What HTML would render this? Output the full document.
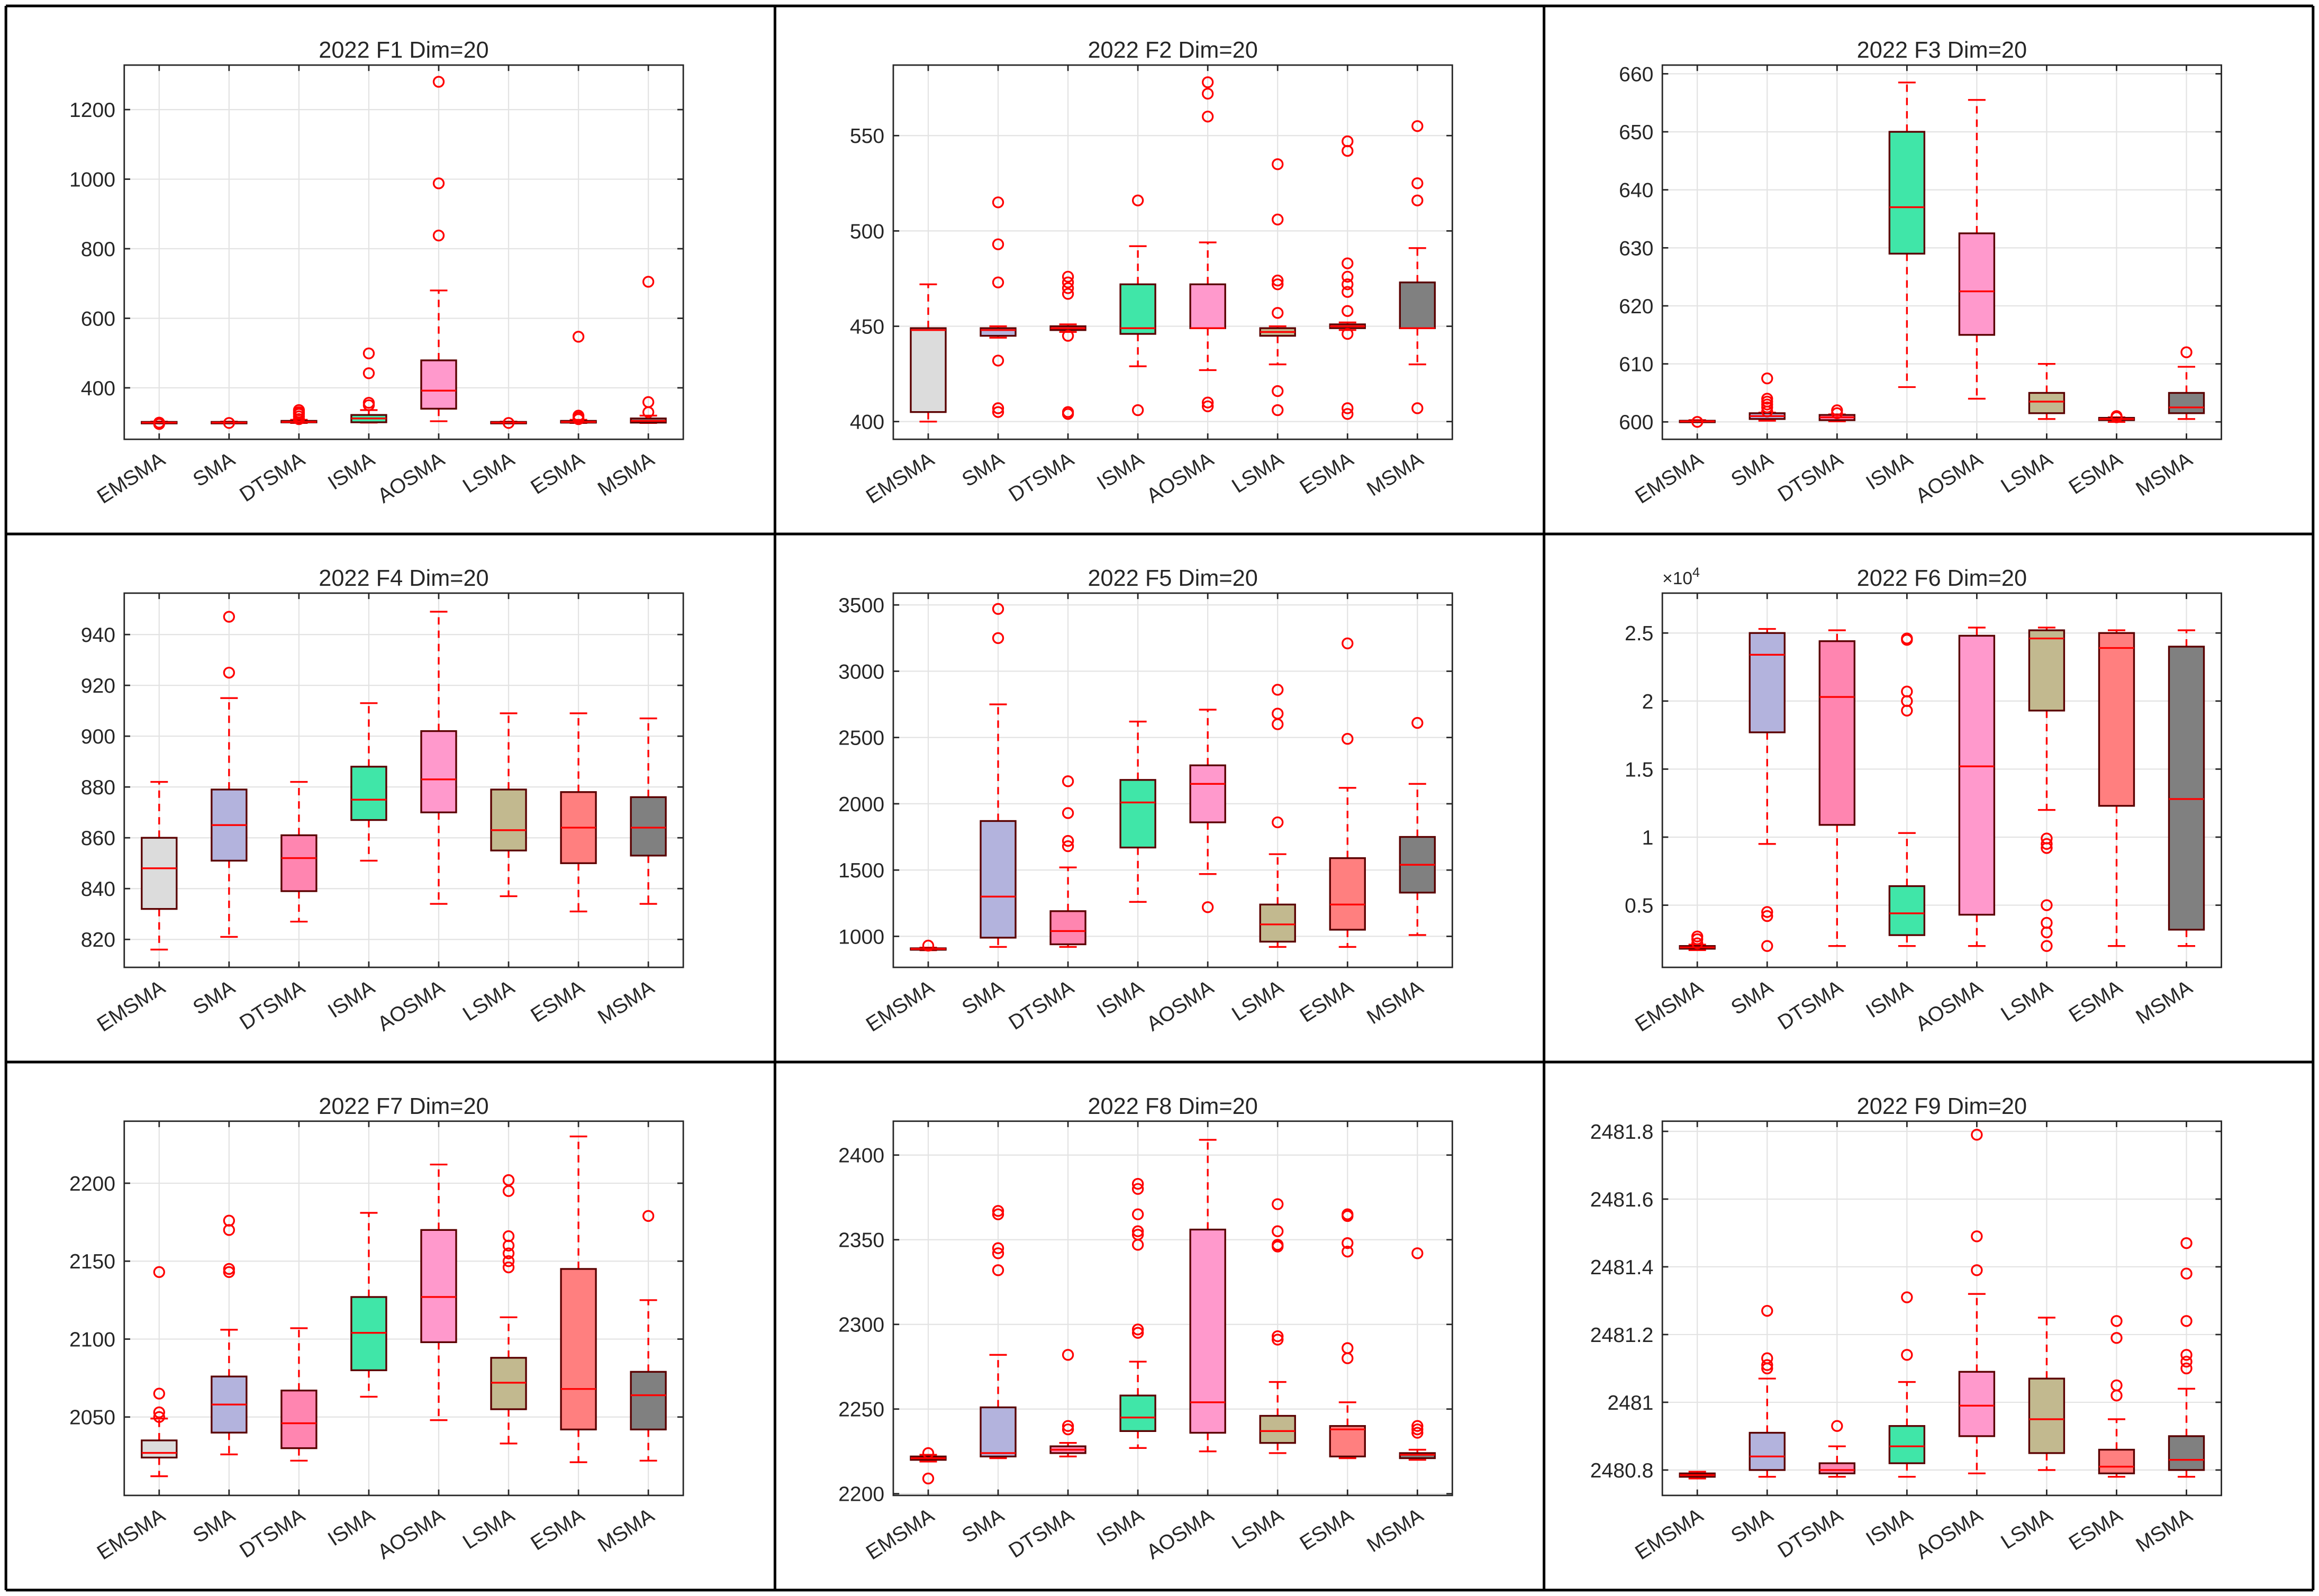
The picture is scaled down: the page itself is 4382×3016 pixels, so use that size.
<!DOCTYPE html>
<html><head><meta charset="utf-8"><style>
html,body{margin:0;padding:0;background:#fff}
svg{display:block}
text{font-family:"Liberation Sans",Arial,sans-serif;fill:#262626}
</style></head><body>
<svg id="fig" xmlns="http://www.w3.org/2000/svg" width="4382" height="3016" viewBox="0 0 1568 1079" preserveAspectRatio="none"></svg>
<script>
const categories=["EMSMA","SMA","DTSMA","ISMA","AOSMA","LSMA","ESMA","MSMA"];
const colors=["#dcdcdc","#b3b3dd","#ff85b0","#40e6a8","#ff99cc","#c2b98f","#ff7f7f","#808080"];
const titles=["2022 F1 Dim=20","2022 F2 Dim=20","2022 F3 Dim=20","2022 F4 Dim=20","2022 F5 Dim=20","2022 F6 Dim=20","2022 F7 Dim=20","2022 F8 Dim=20","2022 F9 Dim=20"];
const ylims=[[252,1328],[390.7,587],[597,661.5],[809,956.3],[766,3589],[0.043,2.793],[1999.7,2239.8],[2199,2420],[2480.725,2481.83]];
const tickVals=[[400,600,800,1000,1200],[400,450,500,550],[600,610,620,630,640,650,660],[820,840,860,880,900,920,940],[1000,1500,2000,2500,3000,3500],[0.5,1,1.5,2,2.5],[2050,2100,2150,2200],[2200,2250,2300,2350,2400],[2480.8,2481,2481.2,2481.4,2481.6,2481.8]];
const tickLabels=[["400","600","800","1000","1200"],["400","450","500","550"],["600","610","620","630","640","650","660"],["820","840","860","880","900","920","940"],["1000","1500","2000","2500","3000","3500"],["0.5","1","1.5","2","2.5"],["2050","2100","2150","2200"],["2200","2250","2300","2350","2400"],["2480.8","2481","2481.2","2481.4","2481.6","2481.8"]];
const q1=[[299,299,301,301,340,299,300,300],[405,445,448,446,449,445,449,449],[600,600.5,600.3,629,615,601.5,600.3,601.5],[832,851,839,867,870,855,850,853],[900,990,940,1670,1860,960,1050,1330],[0.18,1.77,1.09,0.28,0.43,1.93,1.23,0.32],[2024,2040,2030,2080,2098,2055,2042,2042],[2220,2222,2224,2237,2236,2230,2222,2221],[2480.78,2480.80,2480.79,2480.82,2480.90,2480.85,2480.79,2480.80]];
const med=[[300,300,302,312,392,300,302,305],[448,448,449,449,449,447,450,449],[600.1,601,600.8,637,622.5,603.5,600.5,602.5],[848,865,852,875,883,863,864,864],[905,1300,1040,2010,2150,1090,1240,1540],[0.19,2.34,2.03,0.44,1.52,2.46,2.39,1.28],[2027,2058,2046,2104,2127,2072,2068,2064],[2221,2224,2226,2245,2254,2237,2238,2223],[2480.785,2480.84,2480.80,2480.87,2480.99,2480.95,2480.81,2480.83]];
const q3=[[302,302,305,322,479,302,305,312],[449,449,450,472,472,449,451,473],[600.2,601.5,601.2,650,632.5,605,600.7,605],[860,879,861,888,902,879,878,876],[910,1870,1190,2180,2290,1240,1590,1750],[0.2,2.5,2.44,0.64,2.48,2.52,2.5,2.4],[2035,2076,2067,2127,2170,2088,2145,2079],[2222,2251,2228,2258,2356,2246,2240,2224],[2480.79,2480.91,2480.82,2480.93,2481.09,2481.07,2480.86,2480.90]];
const wlo=[[298,298,299,300,304,298,299,299],[400,444,447,429,427,430,448,430],[600,600.2,600.1,606,604,600.5,600,600.5],[816,821,827,851,834,837,831,834],[895,920,920,1260,1470,920,920,1010],[0.17,0.95,0.2,0.2,0.2,1.2,0.2,0.2],[2012,2026,2022,2063,2048,2033,2021,2022],[2219,2221,2222,2227,2225,2224,2221,2220],[2480.775,2480.78,2480.78,2480.78,2480.79,2480.80,2480.78,2480.78]];
const whi=[[303,303,308,336,680,303,308,320],[472,450,451,492,494,450,452,491],[600.3,601.6,601.3,658.5,655.5,610,600.8,609.5],[882,915,882,913,949,909,909,907],[915,2750,1520,2620,2710,1620,2120,2150],[0.21,2.53,2.52,1.03,2.54,2.54,2.52,2.52],[2049,2106,2107,2181,2212,2114,2230,2125],[2223,2282,2230,2278,2409,2266,2254,2226],[2480.795,2481.07,2480.87,2481.06,2481.32,2481.25,2480.95,2481.04]];
const outliers=[
[[300,296],[299],[310,318,325,330,336],[350,357,442,499],[838,988,1280],[299],[310,315,320,547],[330,359,705]],
[[],[515,493,473,432,407,405],[476,473,470,467,445,405,404],[516,406],[578,572,560,410,408],[535,506,474,472,457,416,406],[547,542,483,476,472,468,458,446,407,404],[555,525,516,407]],
[[600],[607.5,604,603.5,603,602.5,601.8],[602,601.5],[],[],[],[601,600.8],[612]],
[[],[947,925],[],[],[],[],[],[]],
[[930],[3470,3250],[2170,1930,1720,1680],[],[1220],[2860,2680,2600,1860],[3210,2490],[2610]],
[[0.22,0.25,0.27],[0.45,0.42,0.2],[],[2.46,2.45,2.07,2.0,1.93],[],[0.99,0.95,0.92,0.5,0.37,0.3,0.2],[],[]],
[[2143,2065,2053,2050],[2176,2170,2145,2143],[],[],[],[2202,2195,2166,2160,2155,2150,2146],[],[2179]],
[[2224,2209],[2367,2365,2345,2342,2332],[2282,2240,2238],[2383,2380,2365,2355,2353,2347,2297,2295],[],[2371,2355,2347,2346,2293,2291],[2365,2364,2348,2343,2286,2280],[2342,2240,2238,2236]],
[[],[2481.27,2481.13,2481.11,2481.10],[2480.93],[2481.31,2481.14],[2481.79,2481.49,2481.39],[],[2481.24,2481.19,2481.05,2481.02],[2481.47,2481.38,2481.24,2481.14,2481.12,2481.10]]
];
const NS="http://www.w3.org/2000/svg";
const svg=document.getElementById('fig');
function mk(tag,attrs,parent){const e=document.createElementNS(NS,tag);for(const k in attrs)e.setAttribute(k,attrs[k]);(parent||svg).appendChild(e);return e;}
for(let p=0;p<9;p++){
  const c=p%3,r=Math.floor(p/3);
  const L=84+520*c,R=L+378,T=44+357*r,B=T+253;
  const g=mk('g',{});
  
  
  const [y0,y1]=ylims[p];
  const ys=v=>B-(v-y0)/(y1-y0)*(B-T);
  const xs=i=>L+(i+0.5)/8*(R-L);
  const bw=(R-L)/8*0.5;
  // grid
  tickVals[p].forEach(v=>{mk('line',{x1:L,x2:R,y1:ys(v),y2:ys(v),stroke:'#e3e3e3','stroke-width':0.8},g);});
  categories.forEach((n,i)=>{mk('line',{x1:xs(i),x2:xs(i),y1:T,y2:B,stroke:'#e3e3e3','stroke-width':0.8},g);});
  // boxes
  categories.forEach((n,i)=>{
    const x=xs(i);
    const bg=mk('g',{},g);
    
    
    mk('line',{x1:x,x2:x,y1:ys(q3[p][i]),y2:ys(whi[p][i]),stroke:'#ff0000','stroke-width':1.2,'stroke-dasharray':'5,4'},bg);
    mk('line',{x1:x,x2:x,y1:ys(q1[p][i]),y2:ys(wlo[p][i]),stroke:'#ff0000','stroke-width':1.2,'stroke-dasharray':'5,4'},bg);
    mk('line',{x1:x-bw/4,x2:x+bw/4,y1:ys(whi[p][i]),y2:ys(whi[p][i]),stroke:'#ff0000','stroke-width':1.2},bg);
    mk('line',{x1:x-bw/4,x2:x+bw/4,y1:ys(wlo[p][i]),y2:ys(wlo[p][i]),stroke:'#ff0000','stroke-width':1.2},bg);
    const yt=ys(q3[p][i]),yb=ys(q1[p][i]);
    mk('rect',{x:x-bw/2,y:yt,width:bw,height:Math.max(yb-yt,1),fill:colors[i],stroke:'#5a0000','stroke-width':1.2},bg);
    mk('line',{x1:x-bw/2,x2:x+bw/2,y1:ys(med[p][i]),y2:ys(med[p][i]),stroke:'#ff0000','stroke-width':1.2},bg);
    outliers[p][i].forEach(v=>{
      const o=mk('circle',{cx:x,cy:ys(v),r:3.4,fill:'none',stroke:'#ff0000','stroke-width':1.2},bg);
      
      
    });
  });
  // axes box
  const ax=mk('rect',{x:L,y:T,width:R-L,height:B-T,fill:'none',stroke:'#262626','stroke-width':1},g);
  
  
  tickVals[p].forEach((v,k)=>{
    const y=ys(v);
    mk('line',{x1:L,x2:L+4,y1:y,y2:y,stroke:'#262626','stroke-width':1},g);
    mk('line',{x1:R-4,x2:R,y1:y,y2:y,stroke:'#262626','stroke-width':1},g);
    const t=mk('text',{x:L-6,y:y+5,'text-anchor':'end','font-size':14},g);
    t.textContent=tickLabels[p][k];
    
    
  });
  categories.forEach((n,i)=>{
    const x=xs(i);
    mk('line',{x1:x,x2:x,y1:B-4,y2:B,stroke:'#262626','stroke-width':1},g);
    mk('line',{x1:x,x2:x,y1:T,y2:T+4,stroke:'#262626','stroke-width':1},g);
    const t=mk('text',{x:x+5,y:B+16,'text-anchor':'end','font-size':14,transform:`rotate(-33 ${x+5} ${B+16})`},g);
    t.textContent=n;
    
    
  });
  const tt=mk('text',{x:(L+R)/2,y:T-5,'text-anchor':'middle','font-size':15.5,fill:'#000'},g);
  tt.textContent=titles[p];
  
  
  if(p===5){
    const e=mk('text',{x:L,y:T-6,'font-size':12},g);
    e.textContent='×10';
    
    
    const s=mk('tspan',{dy:-5,'font-size':9},e);s.textContent='4';
  }
}
// panel borders
[4,524,1044,1564].forEach(x=>{const l=mk('line',{x1:x,x2:x,y1:4,y2:1075,stroke:'#000','stroke-width':1.8});});
[4,361,718,1075].forEach(y=>{const l=mk('line',{x1:4,x2:1564,y1:y,y2:y,stroke:'#000','stroke-width':1.8});});
</script>
</body></html>
